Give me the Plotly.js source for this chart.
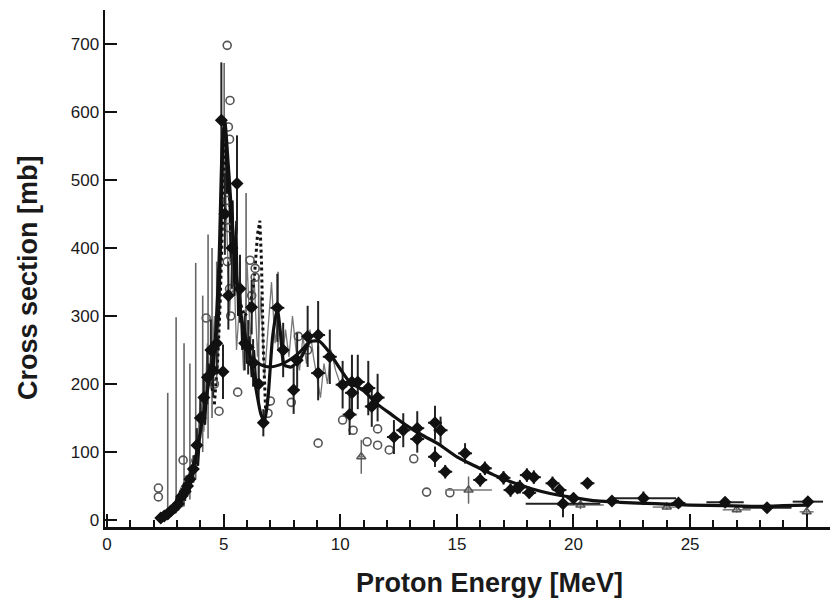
<!DOCTYPE html>
<html>
<head>
<meta charset="utf-8">
<script src="https://cdn.plot.ly/plotly-3.0.1.min.js"></script>
<style>html,body{margin:0;padding:0;background:#fff;}#chart{width:834px;height:604px;}</style>
</head>
<body>
<div id="chart"></div>
<script>
// ---- Data ----
// Thick evaluated / fitted curve
const fitX = [2.2,2.5,2.8,3.1,3.4,3.7,4.0,4.3,4.6,4.8,4.95,5.05,5.2,5.4,5.6,5.8,6.0,6.2,6.4,6.6,6.75,6.9,7.1,7.3,7.45,7.6,7.9,8.3,8.7,9.1,9.5,10.0,10.4,11.0,11.6,12.2,12.8,13.5,14.2,15.0,15.8,16.6,17.4,18.2,19.0,20.0,21.0,22.0,23.5,25.0,26.5,28.0,29.0,30.0];
const fitY = [2,6,14,28,45,75,130,190,250,380,560,585,520,420,340,290,260,230,190,155,145,180,270,310,270,228,225,238,262,263,248,222,203,190,170,155,140,125,112,93,79,66,55,46,39,33,28,26,24,22,21,20,21,22];
// Second smooth thick branch (6-8.5 MeV)
const fit2X = [6.2,6.6,7.0,7.4,7.8,8.2,8.6];
const fit2Y = [240,228,225,228,235,245,260];
// Thin high-resolution resonance curve (gray)
const resX = [2.3,2.6,2.9,3.2,3.4,3.6,3.8,4.0,4.15,4.3,4.45,4.6,4.75,4.9,5.0,5.1,5.25,5.4,5.55,5.7,5.85,6.0,6.15,6.3,6.45,6.6,6.75,6.9,7.05,7.2,7.35,7.5,7.65,7.8,7.95,8.1,8.25,8.4,8.55,8.7,8.85,9.0,9.15,9.3,9.45,9.6,9.8,10.0,10.3];
const resY = [5,12,25,50,40,90,70,180,130,260,200,300,220,420,560,470,300,420,250,330,220,380,260,360,240,330,210,280,350,260,300,230,280,240,300,250,220,270,230,280,240,210,180,230,200,250,220,200,195];
// Dense black resonance data (2-6.5 MeV)
const blkX = [2.25,2.4,2.55,2.7,2.85,3.0,3.15,3.3,3.45,3.6,3.75,3.9,4.05,4.2,4.35,4.5,4.65,4.8,4.9,4.98,5.06,5.14,5.22,5.3,5.38,5.46,5.54,5.62,5.7,5.8,5.9,6.0,6.1,6.2,6.3,6.4];
const blkY = [2,8,5,18,12,35,25,55,40,70,95,80,160,140,230,190,260,300,420,560,590,480,520,380,470,330,440,300,350,250,290,230,270,210,250,200];
// Dotted curve
const dotX = [4.6,4.75,4.85,4.95,5.05,5.2,5.35,5.5,5.7,5.9,6.1,6.3,6.45,6.55,6.62,6.7,6.8,6.95];
const dotY = [170,240,320,450,560,500,420,360,320,300,310,350,420,440,380,250,160,170];
// Long thin vertical error bars (low, high)
const vbX  = [2.6,2.96,3.3,3.55,3.8,4.1,4.33,4.5,4.7,5.02,5.57,5.96,6.5,7.33];
const vbLo = [5,10,20,30,60,100,120,150,200,500,420,250,200,250];
const vbHi = [187,298,260,230,378,330,420,400,380,672,566,481,360,365];
// Filled diamonds with error bars
const dmX  = [2.3,2.45,2.6,2.75,2.9,3.05,3.2,3.35,3.45,3.55,3.7,3.85,4.0,4.15,4.3,4.45,4.55,4.7,4.97,4.9,5.05,5.2,5.35,5.57,5.7,5.9,6.05,6.2,6.26,6.5,6.7,7.3,7.55,8.0,8.15,8.6,9.05,9.05,9.55,10.1,10.4,10.5,10.75,10.5,11.2,11.6,11.35,12.3,12.7,13.3,13.3,14.06,14.3,14.06,14.5,15.35,16.0,16.2,17.0,17.3,17.7,18.1,18.0,18.3,17.6,19.1,19.4,20.6,19.55,20.0,21.65,23.0,24.5,26.5,28.3,30.05];
const dmY  = [3,6,9,14,18,24,35,42,50,60,75,110,150,180,210,250,220,260,218,588,450,330,400,495,340,260,254,313,231,200,143,312,250,191,235,270,272,216,240,199,155,203,203,187,194,180,167,122,132,135,119,143,132,93,71,98,59,76,62,44,49,40,66,63,47,54,44,54,24,32,28,32,25,26,18,27];
const dmEy = [3,4,5,6,8,10,12,14,15,18,20,25,30,35,40,45,40,45,40,85,60,50,60,70,50,40,40,40,35,30,20,50,40,35,40,45,50,40,40,35,30,40,40,30,40,35,30,25,25,25,20,25,20,15,10,15,10,10,10,10,10,8,10,10,8,10,8,6,20,8,6,10,5,6,5,6];
const dmEx = [0.1,0.1,0.1,0.1,0.1,0.1,0.1,0.1,0.1,0.1,0.1,0.1,0.15,0.15,0.15,0.15,0.15,0.15,0.2,0.2,0.15,0.15,0.15,0.2,0.15,0.15,0.2,0.2,0.2,0.2,0.2,0.3,0.25,0.25,0.25,0.25,0.3,0.3,0.3,0.3,0.3,0.3,0.3,0.3,0.3,0.3,0.3,0.3,0.3,0.3,0.3,0.3,0.3,0.3,0.3,0.3,0.3,0.3,0.3,0.3,0.3,0.3,0.3,0.3,0.3,0.3,0.3,0.3,1.6,0.3,0.3,1.4,0.3,0.8,1.05,0.65];
// Open circles
const ocX = [2.2,2.2,3.26,3.13,3.5,4.25,4.6,4.8,5.15,5.27,5.2,5.25,5.15,5.2,5.15,5.25,5.3,5.6,6.13,6.35,6.35,6.2,6.9,7.0,7.9,9.05,10.1,10.55,11.6,11.15,11.6,12.1,13.15,13.7,14.7,8.2,8.6];
const ocY = [47,34,88,25,60,297,200,160,698,617,578,560,470,430,380,340,300,188,382,370,357,330,157,175,173,113,147,132,134,115,110,103,90,41,40,270,250];
// Open triangles with error bars
const trX  = [10.9,15.5,20.3,24.0,27.0,30.0];
const trY  = [93,44,22,19,15,12];
const trEy = [25,20,6,4,4,5];
const trEx = [0.1,1.0,1.0,0.6,0.6,0.3];
// Axis titles
const xTitle = 'Proton Energy [MeV]';
const yTitle = 'Cross section [mb]';

// ---- build vertical segments from the bar data ----
const segX = [], segY = [];
vbX.forEach((x, i) => { segX.push(x, x, null); segY.push(vbLo[i], vbHi[i], null); });

const traces = [
  {x: segX, y: segY, mode: 'lines', line: {color: '#666', width: 1.6}, hoverinfo: 'skip'},
  {x: resX, y: resY, mode: 'lines', line: {color: '#777', width: 1.3}},
  {x: blkX, y: blkY, mode: 'lines', line: {color: '#111', width: 2.2}},
  {x: dotX, y: dotY, mode: 'lines', line: {color: '#111', width: 3, dash: 'dot'}},
  {x: ocX, y: ocY, mode: 'markers', marker: {symbol: 'circle-open', size: 8, color: '#555', line: {width: 1.6, color: '#555'}}},
  {x: trX, y: trY, mode: 'markers', marker: {symbol: 'triangle-up-open', size: 8, color: '#555', line: {width: 1.5, color: '#555'}},
   error_y: {type: 'data', array: trEy, visible: true, color: '#666', thickness: 1.5, width: 0},
   error_x: {type: 'data', array: trEx, visible: true, color: '#777', thickness: 1.5, width: 0}},
  {x: dmX, y: dmY, mode: 'markers', marker: {symbol: 'diamond', size: 10, color: '#111'},
   error_y: {type: 'data', array: dmEy, visible: true, color: '#222', thickness: 2, width: 0},
   error_x: {type: 'data', array: dmEx, visible: true, color: '#222', thickness: 2, width: 0}},
  {x: fit2X, y: fit2Y, mode: 'lines', line: {color: '#111', width: 3, shape: 'spline'}},
  {x: fitX, y: fitY, mode: 'lines', line: {color: '#111', width: 3.2, shape: 'spline', smoothing: 0.6}}
];

const fam = 'Liberation Sans, Arial, Helvetica, sans-serif';
const font = {family: fam, size: 17, color: '#1a1a1a'};
const titleFont = {family: fam, size: 27, color: '#1a1a1a'};
const layout = {
  width: 834, height: 604,
  margin: {l: 105, r: 4, t: 10, b: 77},
  showlegend: false,
  paper_bgcolor: '#fff', plot_bgcolor: '#fff',
  font: font,
  xaxis: {
    range: [-0.09, 31.0],
    tickmode: 'array', tickvals: [0,5,10,15,20,25,30], ticktext: ['0','5','10','15','20','25',''],
    ticks: 'inside', ticklen: 13, tickwidth: 2, tickcolor: '#111',
    minor: {ticks: 'inside', ticklen: 7, tickwidth: 2, tickcolor: '#111', dtick: 1, tick0: 0, showgrid: false},
    showline: true, linewidth: 2.5, linecolor: '#111',
    showgrid: false, zeroline: false,
    tickfont: font,
    automargin: false
  },
  yaxis: {
    range: [-10.3, 750],
    tickmode: 'linear', tick0: 0, dtick: 100,
    ticks: 'inside', ticklen: 12, tickwidth: 2, tickcolor: '#111',
    showline: true, linewidth: 2.5, linecolor: '#111',
    showgrid: false, zeroline: false,
    tickfont: font,
    automargin: false
  },
  annotations: [
    {text: '<b>' + xTitle + '</b>', xref: 'paper', yref: 'paper', x: 0.5297, y: -0.108,
     xanchor: 'center', yanchor: 'middle', showarrow: false, font: titleFont},
    {text: '<b>' + yTitle + '</b>', xref: 'paper', yref: 'paper', x: -0.1062, y: 0.4816,
     xanchor: 'center', yanchor: 'middle', textangle: -90, showarrow: false, font: titleFont}
  ]
};

Plotly.newPlot('chart', traces, layout, {displayModeBar: false, staticPlot: true});
</script>
</body>
</html>
